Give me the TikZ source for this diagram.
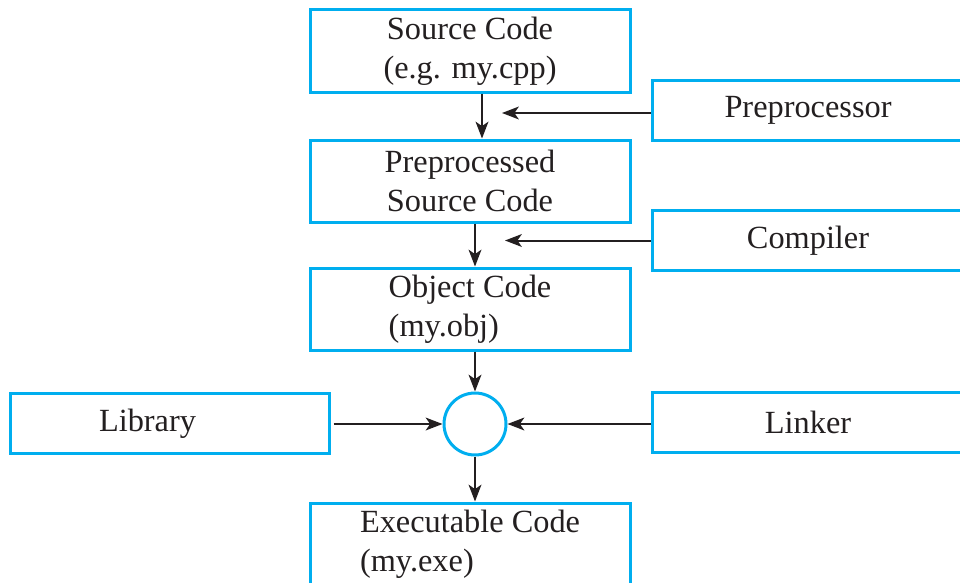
\documentclass[tikz,border=0pt]{standalone}
\usepackage{fontspec}
\setmainfont{Liberation Serif}
\usetikzlibrary{shapes,arrows.meta,positioning,calc}
\definecolor{boxcyan}{RGB}{0,174,239}
\definecolor{inkgray}{RGB}{35,31,32}

\begin{document}
\begin{tikzpicture}[
    font=\fontsize{23}{27.5}\selectfont, text=inkgray,
    stage/.style={rectangle, draw=boxcyan, line width=0.075cm, minimum width=8cm, minimum height=2.05cm, align=center},
    tool/.style={rectangle, draw=boxcyan, line width=0.075cm, minimum width=7.8cm, minimum height=1.5cm},
    arr/.style={-{Stealth[length=0.42cm, width=0.32cm, inset=0.11cm]}, line width=0.05cm, draw=inkgray}
]
    \useasboundingbox (0,0) rectangle (24,-14.55);

    % Nodes
    \node (src) [stage] at (11.75,-1.275) {Source Code\\(e.g. my.cpp)};
    \node (pre) [stage, below=1.125cm of src] {Preprocessed\\Source Code};
    \node (obj) [stage, below=1.075cm of pre, align=left] {Object Code\\(my.obj)};
    \node (circ) [circle, draw=boxcyan, line width=0.075cm, minimum size=1.55cm] at (11.875,-10.6) {};
    \node (exe) [stage, align=left] at (11.75,-13.6) {Executable Code\\(my.exe)};

    \node (prep) [tool] at (20.2,-2.75) {Preprocessor};
    \node (comp) [tool] at (20.2,-6.0125) {Compiler};
    \node (link) [tool] at (20.2,-10.5625) {Linker};
    \node (lib) [tool, minimum width=7.975cm] at (4.2375,-10.5875) {Library\hspace*{1.1cm}};

    % Arrows
    \draw [arr] ([xshift=0.3cm]src.south) -- ([xshift=0.3cm]pre.north);
    \draw [arr] (pre.south -| circ) -- (obj.north -| circ);
    \draw [arr] (obj.south -| circ) -- (circ.north);
    \draw [arr] (circ.south) -- (exe.north -| circ);
    \draw [arr, shorten >=0.675cm] ([yshift=-0.075cm]prep.west) -- ([yshift=-0.075cm]prep.west -| circ);
    \draw [arr, shorten >=0.75cm] (comp.west) -- (comp.west -| circ);
    \draw [arr] ([xshift=0.075cm]lib.east |- circ) -- (circ.west);
    \draw [arr] (link.west |- circ) -- (circ.east);
\end{tikzpicture}
\end{document}
